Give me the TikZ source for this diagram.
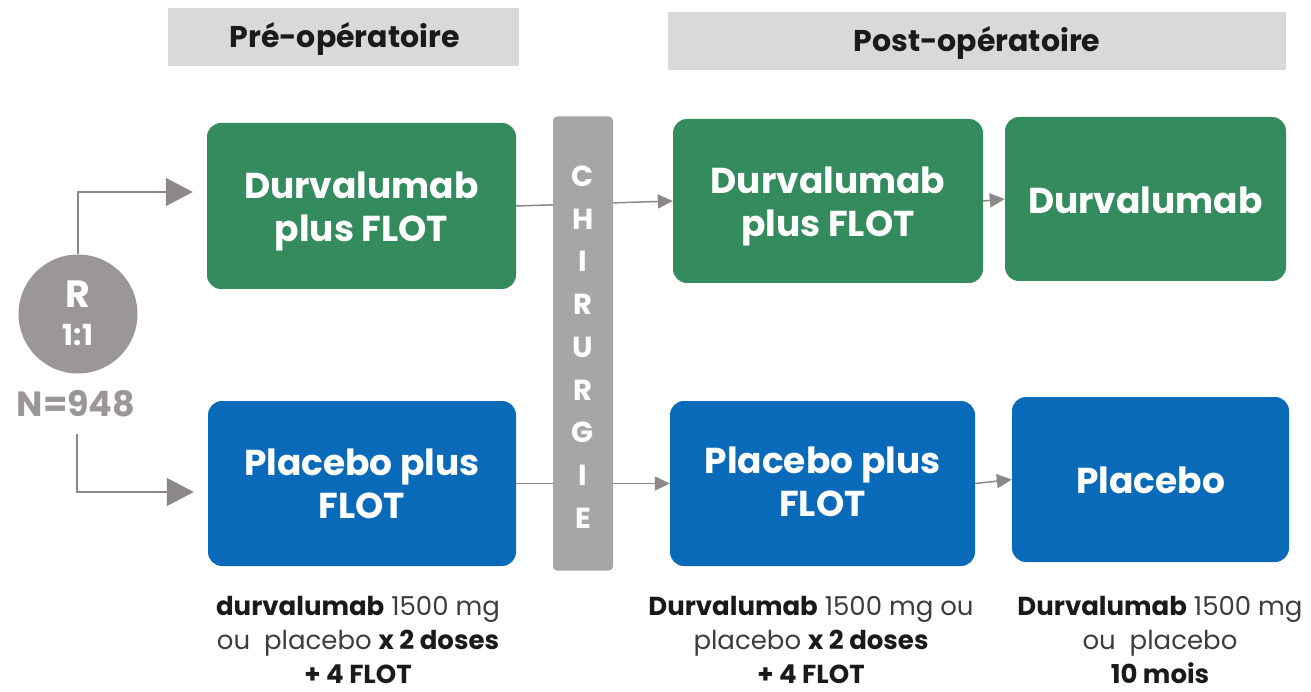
\documentclass[tikz,border=0pt]{standalone}
\usepackage{fontspec}
\setmainfont{Poppins}
\usetikzlibrary{arrows.meta}

\definecolor{armgreen}{RGB}{52,139,94}
\definecolor{armblue}{RGB}{10,106,186}
\definecolor{randgray}{RGB}{155,151,150}
\definecolor{surgray}{RGB}{166,166,166}
\definecolor{hdrgray}{RGB}{217,217,217}
\definecolor{linegray}{RGB}{140,136,135}
\definecolor{inkdark}{RGB}{26,26,26}
\definecolor{inksoft}{RGB}{60,60,60}

\begin{document}
\begin{tikzpicture}[x=1pt,y=-1pt,
  armbox/.style={rounded corners=14pt, inner sep=0pt},
  armtext/.style={text=white, align=center, inner sep=0pt,
    font=\bfseries\fontsize{36}{43}\selectfont},
  hdrbox/.style={fill=hdrgray, inner sep=0pt},
  hdrtext/.style={text=inkdark, inner sep=0pt,
    font=\bfseries\fontsize{30}{34}\selectfont},
  note/.style={align=center, inner sep=0pt, text=inksoft,
    font=\fontsize{26}{34}\selectfont},
  conn/.style={draw=linegray, line width=1.5pt},
  bigtip/.style={-{Triangle[length=27pt,width=28pt]}},
  smalltip/.style={-{Triangle[length=15pt,width=14pt]}}
]
\useasboundingbox (0,0) rectangle (1311,692);

% phase headers
\node[hdrbox, minimum width=351pt, minimum height=58pt] (pre) at (343.5,37) {};
\node[hdrtext] (pretxt) at (344.5,39) {Pré-opératoire};
\node[hdrbox, minimum width=618pt, minimum height=58pt] (post) at (977,41) {};
\node[hdrtext] (posttxt) at (977,43) {Post-opératoire};

% treatment arms
\node[armbox, fill=armgreen, minimum width=309pt, minimum height=166pt] (g1) at (361.5,206) {};
\node[armbox, fill=armgreen, minimum width=310pt, minimum height=164pt] (g2) at (828,201) {};
\node[armbox, fill=armgreen, minimum width=281pt, minimum height=164pt] (g3) at (1145.5,199) {};
\node[armbox, fill=armblue, minimum width=308pt, minimum height=165pt] (b1) at (362,483.5) {};
\node[armbox, fill=armblue, minimum width=305pt, minimum height=165pt] (b2) at (822.5,483.5) {};
\node[armbox, fill=armblue, minimum width=277pt, minimum height=165pt] (b3) at (1150.5,479.5) {};

\node[armtext] (g1txt) at (361.5,211) {Durvalumab\\plus FLOT};
\node[armtext] (g2txt) at (828,206) {Durvalumab\\plus FLOT};
\node[armtext] (g3txt) at (1145.5,200) {Durvalumab};
\node[armtext] (b1txt) at (362,484) {Placebo plus\\FLOT};
\node[armtext] (b2txt) at (822.5,482) {Placebo plus\\FLOT};
\node[armtext] (b3txt) at (1150.5,480) {Placebo};

% connectors between arms (surgery bar drawn over them)
\draw[conn, smalltip] (g1.east) -- (g2.west);
\draw[conn, smalltip] (b1.east) -- (b2.west);
\draw[conn, smalltip] (g2.east) -- (g3.west);
\draw[conn, smalltip] (b2.east) -- (b3.west);

% surgery
\node[fill=surgray, rounded corners=4pt, minimum width=60pt, minimum height=454pt, inner sep=0pt] (chir) at (583,343.5) {};
\node[text=white, align=center, inner sep=0pt, font=\bfseries\fontsize{29}{42.75}\selectfont] (chirtxt) at (583,347)
  {C\\H\\I\\R\\U\\R\\G\\I\\E};

% randomisation
\node[circle, fill=randgray, minimum size=119pt, inner sep=0pt] (rand) at (78,314) {};
\node[text=white, inner sep=0pt, font=\bfseries\fontsize{38}{40}\selectfont] (rtxt) at (78,294) {R};
\node[text=white, inner sep=0pt, font=\bfseries\fontsize{29}{32}\selectfont] (ratio) at (78,335) {1:1};
\node[text=randgray, inner sep=0pt, font=\bfseries\fontsize{35}{38}\selectfont] (n) at (76,404) {N=948};
\coordinate (nbelow) at (77,434);

\draw[conn, bigtip] (rand.north) |- ([yshift=14pt,xshift=-14pt]g1.west);
\draw[conn, bigtip] (nbelow) |- ([yshift=-8.5pt,xshift=-14pt]b1.west);

% dosing notes
\node[note] (n1) at (358,640) {{\bfseries\color{inkdark}durvalumab} 1500 mg\\ou\ \ placebo {\bfseries\color{inkdark}x 2 doses}\\{\bfseries\color{inkdark}+ 4 FLOT}};
\node[note] (n2) at (811,640) {{\bfseries\color{inkdark}Durvalumab} 1500 mg ou\\placebo {\bfseries\color{inkdark}x 2 doses}\\{\bfseries\color{inkdark}+ 4 FLOT}};
\node[note] (n3) at (1160,640) {{\bfseries\color{inkdark}Durvalumab} 1500 mg\\ou\ \ placebo\\{\bfseries\color{inkdark}10 mois}};
\end{tikzpicture}
\end{document}
